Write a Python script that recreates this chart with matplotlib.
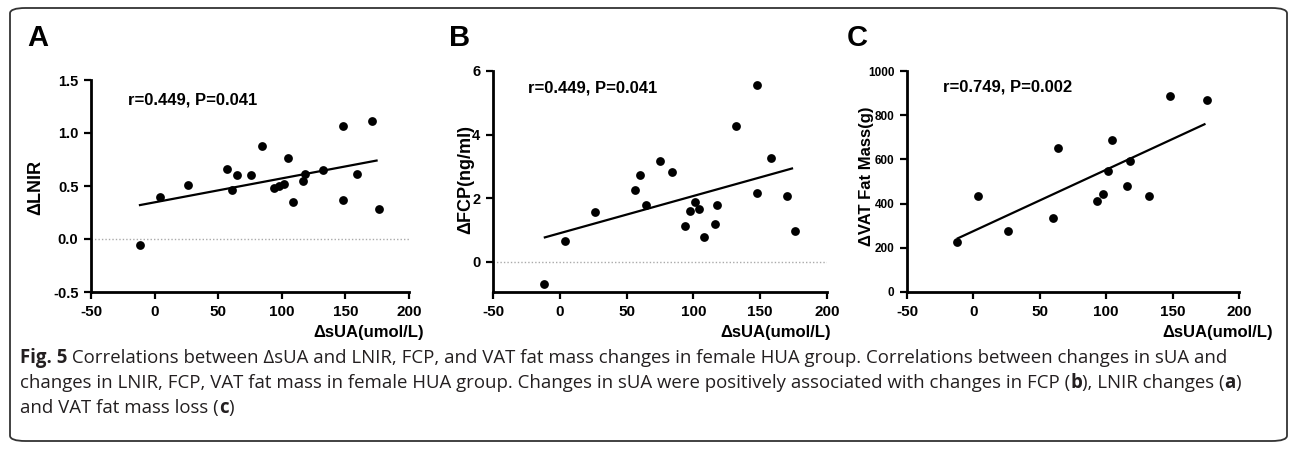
import numpy as np
import matplotlib
matplotlib.use("Agg")
import matplotlib.pyplot as plt
from matplotlib.patches import FancyBboxPatch

# data
sua_a = [-11.5, 4.2, 26.5, 56.9, 60.8, 64.8, 76, 84.4, 93.9, 98, 101.7, 105,
         108.5, 116.4, 118.5, 132.6, 147.8, 147.8, 158.8, 170.9, 176.7]
lnir = [-0.06, 0.40, 0.51, 0.66, 0.46, 0.60, 0.60, 0.88, 0.48, 0.50, 0.52, 0.76,
        0.35, 0.55, 0.61, 0.65, 1.07, 0.37, 0.61, 1.11, 0.28]
fit_a_x = [-11.5, 174.5]
fit_a_y = [0.32, 0.74]

sua_b = [-11.7, 3.8, 26.0, 56.5, 60.3, 64.3, 75, 84, 93.5, 97.7, 101.3, 104.5,
         108, 116.3, 117.5, 131.8, 147.5, 147.5, 157.8, 169.8, 176]
fcp = [-0.70, 0.65, 1.56, 2.25, 2.73, 1.79, 3.15, 2.81, 1.13, 1.58, 1.87, 1.64,
       0.76, 1.17, 1.79, 4.27, 5.57, 2.16, 3.25, 2.07, 0.95]
fit_b_x = [-11.2, 173.8]
fit_b_y = [0.76, 2.93]

sua_c = [-12.2, 3.2, 26.1, 60.0, 63.8, 93.3, 97.6, 101.1, 104.4, 116, 118.2,
         132, 147.7, 176.1]
vat = [224, 433, 278, 336, 653, 413, 443, 546, 688, 481, 593, 433, 887, 869]
fit_c_x = [-11.7, 174]
fit_c_y = [243, 759]

x_ticks = [-50, 0, 50, 100, 150, 200]
stats = ["r=0.449, P=0.041", "r=0.449, P=0.041", "r=0.749, P=0.002"]
ylabels = ["\u0394LNIR", "\u0394FCP(ng/ml)", "\u0394VAT Fat Mass(g)"]
letters = ["A", "B", "C"]

W, H = 1292, 449
fig = plt.figure(figsize=(W / 100, H / 100), dpi=100)
plt.rcParams['font.family'] = ['Liberation Sans', 'DejaVu Sans']
plt.rcParams['axes.unicode_minus'] = False


def px_axes(l, t, r, b):
    return fig.add_axes([l / W, 1 - b / H, (r - l) / W, (b - t) / H])


def fx(px):
    return px / W


def fy(py):
    return 1 - py / H


# outer rounded frame
frame = FancyBboxPatch((fx(10), fy(441)), fx(1287) - fx(10), fy(8) - fy(441),
                       boxstyle="round,pad=0,rounding_size=0.012",
                       transform=fig.transFigure, fill=False, lw=1.3,
                       ec="#333333", clip_on=False)
fig.patches.append(frame)

ax_a = px_axes(91, 80, 409, 292)
ax_b = px_axes(493, 71, 827, 292)
ax_c = px_axes(907, 71, 1239, 292)

panels = [
    (ax_a, sua_a, lnir, fit_a_x, fit_a_y, (-0.5, 1.5), [-0.5, 0.0, 0.5, 1.0, 1.5], "%.1f", 10.5),
    (ax_b, sua_b, fcp, fit_b_x, fit_b_y, (-0.96, 6), [0, 2, 4, 6], "%d", 10.5),
    (ax_c, sua_c, vat, fit_c_x, fit_c_y, (0, 1000), [0, 200, 400, 600, 800, 1000], "%d", 8.5),
]

for ax, xs, ys, lx, ly, ylim, yt, fmt, yfs in panels:
    ax.scatter(xs, ys, s=40, c="black", zorder=3, linewidths=0)
    ax.plot(lx, ly, color="black", lw=1.6, zorder=2)
    if ylim[0] < 0:
        ax.axhline(0, color="#aaaaaa", lw=1, ls=(0, (1, 1.5)), zorder=1)
    ax.set_xlim(-50, 200)
    ax.set_ylim(*ylim)
    ax.set_xticks(x_ticks)
    ax.set_yticks(yt)
    ax.set_yticklabels([fmt % v for v in yt])
    for s in ["top", "right"]:
        ax.spines[s].set_visible(False)
    for s in ["left", "bottom"]:
        ax.spines[s].set_linewidth(2)
    ax.tick_params(direction="out", length=5, width=1.6, pad=4)
    for lab in ax.get_xticklabels():
        lab.set_fontweight("bold")
        lab.set_fontsize(11)
    for lab in ax.get_yticklabels():
        lab.set_fontweight("bold")
        lab.set_fontsize(yfs)
    ax.set_facecolor("none")

# stats text
fig.text(fx(128), fy(100), stats[0], fontsize=12, fontweight="bold", va="center")
fig.text(fx(528), fy(88), stats[1], fontsize=12, fontweight="bold", va="center")
fig.text(fx(943), fy(87), stats[2], fontsize=12, fontweight="bold", va="center")

# y labels
fig.text(fx(36), fy(187), ylabels[0], fontsize=13, fontweight="bold", rotation=90,
         ha="center", va="center")
fig.text(fx(466), fy(180), ylabels[1], fontsize=13, fontweight="bold", rotation=90,
         ha="center", va="center")
fig.text(fx(866), fy(176), ylabels[2], fontsize=12, fontweight="bold", rotation=90,
         ha="center", va="center")

# x labels
for cx in [369, 776, 1218]:
    fig.text(fx(cx), fy(333), "\u0394sUA(umol/L)", fontsize=12, fontweight="bold",
             ha="center", va="center")

# panel letters
for lx, letter in zip([27, 449, 847], letters):
    fig.text(fx(lx), fy(38), letter, fontsize=21, fontweight="bold", va="center")

# caption with bold runs
caption = [
    [("Fig. 5", "bold"), (" Correlations between \u0394sUA and LNIR, FCP, and VAT fat mass changes in "
                          "female HUA group. Correlations between changes in sUA and", "normal")],
    [("changes in LNIR, FCP, VAT fat mass in female HUA group. Changes in sUA were positively "
      "associated with changes in FCP (", "normal"), ("b", "bold"), ("), LNIR changes (", "normal"),
     ("a", "bold"), (")", "normal")],
    [("and VAT fat mass loss (", "normal"), ("c", "bold"), (")", "normal")],
]
fig.canvas.draw()
renderer = fig.canvas.get_renderer()
for i, line in enumerate(caption):
    x = fx(20)
    y = fy(358 + i * 25)
    for txt, wt in line:
        t = fig.text(x, y, txt, fontsize=13.4, fontweight=wt, va="center",
                     family=["Open Sans", "DejaVu Sans"], color="#231f20")
        bb = t.get_window_extent(renderer=renderer)
        x += bb.width / W

fig.savefig("out.png", dpi=100)
